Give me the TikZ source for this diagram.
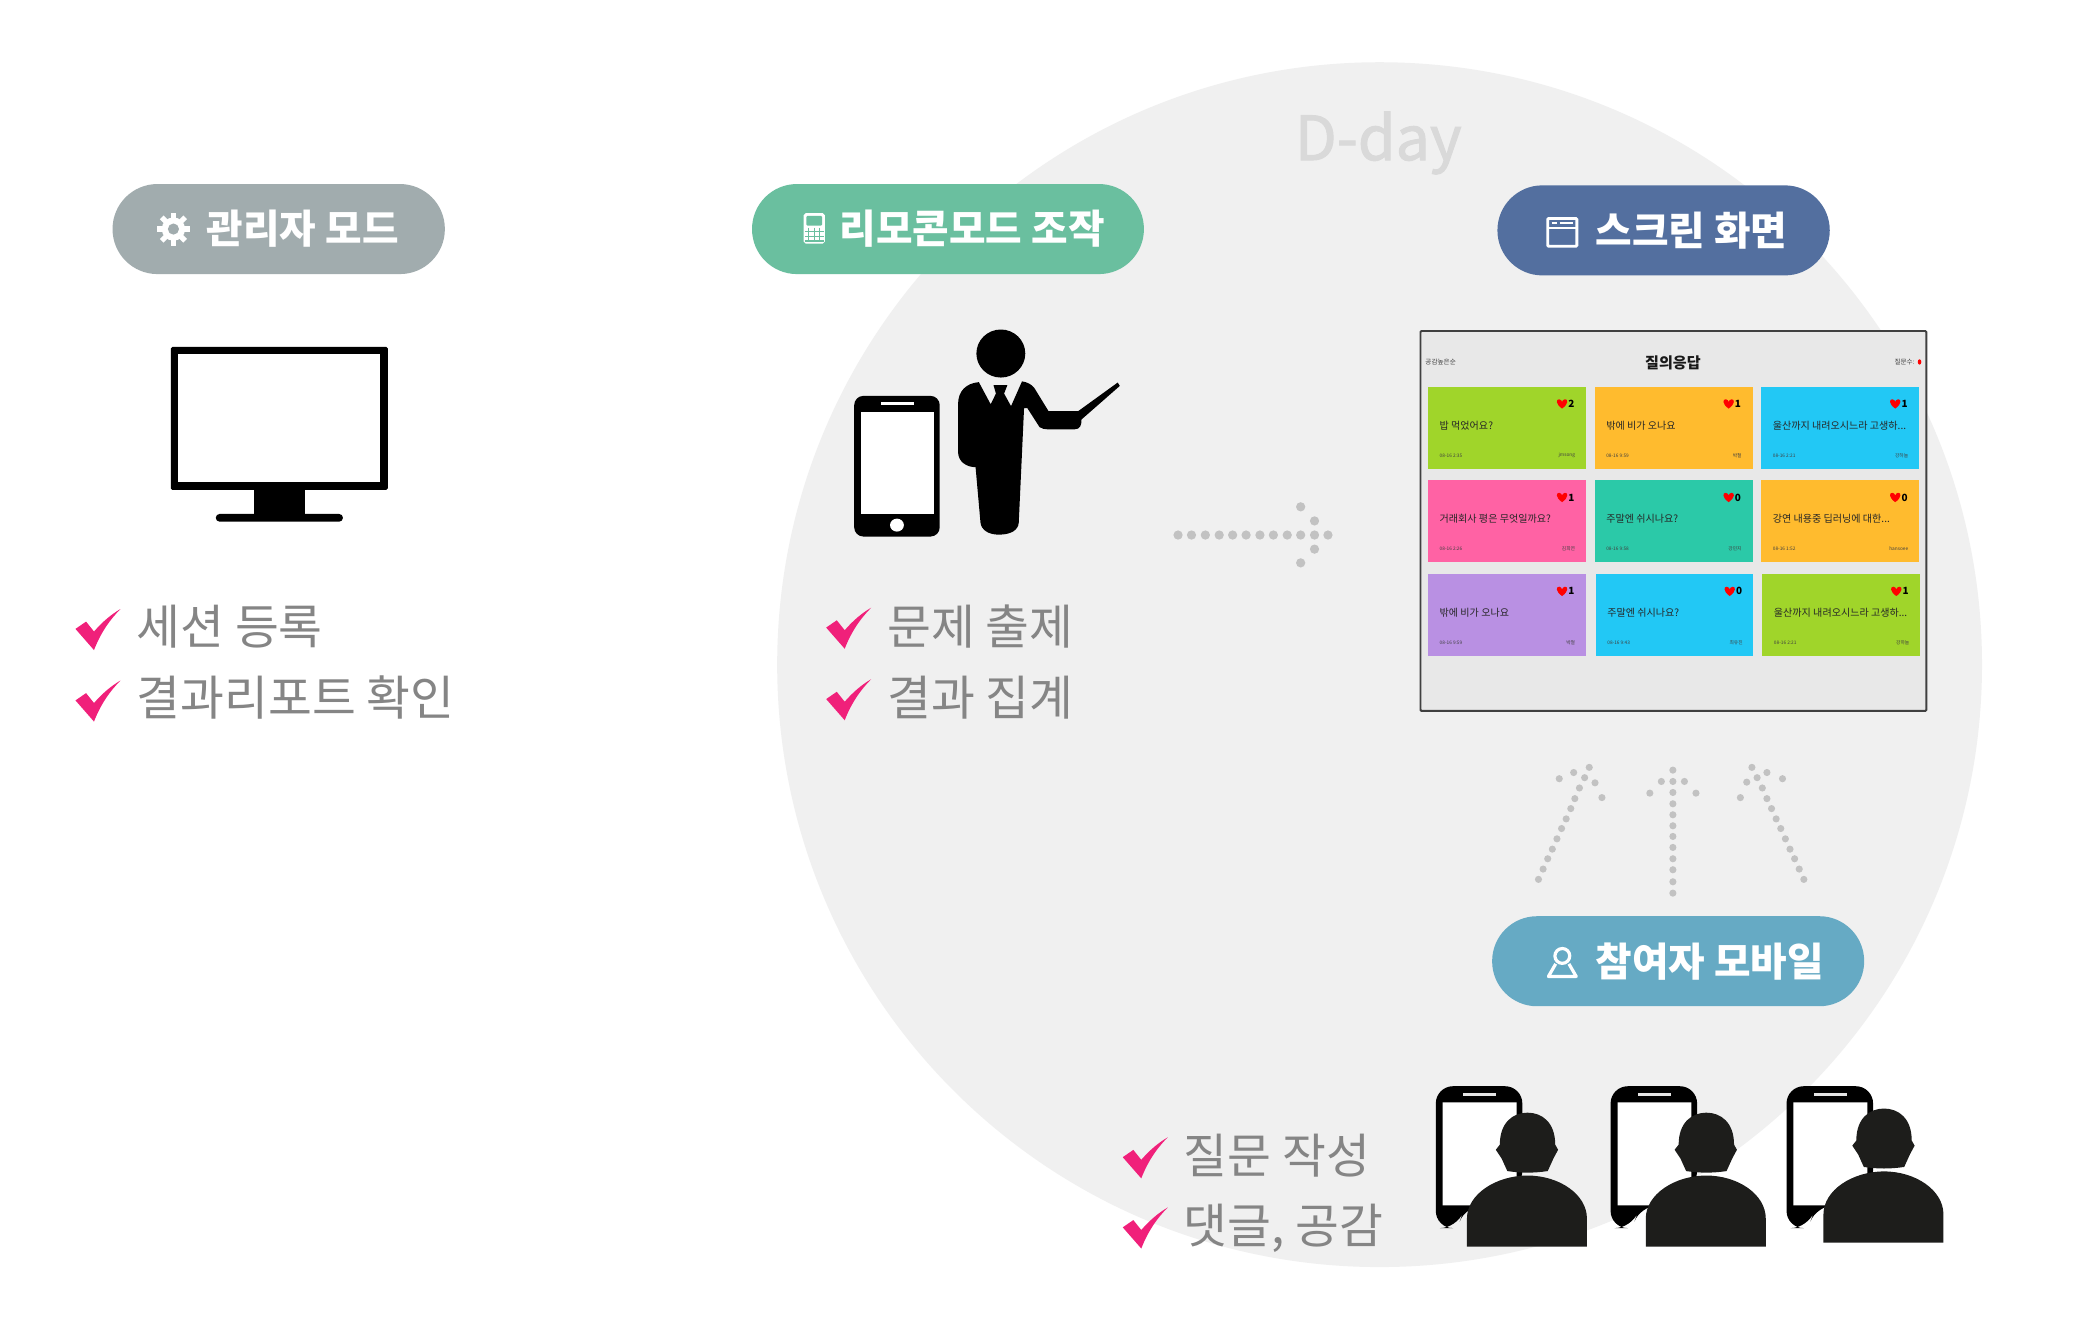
\documentclass[tikz,border=0pt]{standalone}
\usepackage{fontspec}
\setmainfont{Noto Sans CJK KR}
\newfontfamily\ddayfont[FakeBold=1.6]{Noto Sans CJK KR}
\definecolor{bgc}{HTML}{F0F0F0}
\definecolor{pillA}{HTML}{A1ACAE}
\definecolor{pillB}{HTML}{6ABF9F}
\definecolor{pillC}{HTML}{536F9F}
\definecolor{pillD}{HTML}{66AAC4}
\definecolor{chk}{HTML}{F0207A}
\definecolor{listc}{HTML}{858585}
\definecolor{dotc}{HTML}{C2C2C2}
\definecolor{dark}{HTML}{1D1D1B}
\definecolor{cgreen}{HTML}{A0D52A}
\definecolor{corange}{HTML}{FFBB2E}
\definecolor{cblue}{HTML}{22C8F5}
\definecolor{cpink}{HTML}{FF62A4}
\definecolor{cteal}{HTML}{2BC9A8}
\definecolor{cpurple}{HTML}{B990E3}
\newcommand{\fs}[1]{\fontsize{#1}{#1}\selectfont}
\tikzset{
  pill/.style={draw=none,minimum height=68pt,rounded corners=33.9pt,inner sep=0pt},
  pilltext/.style={text=white,font=\fs{30}\bfseries,anchor=west,inner sep=0pt},
  listtext/.style={text=listc,font=\fs{36},anchor=west,inner sep=0pt},
  qtext/.style={text=black!85,font=\fs{7.6},anchor=west,inner sep=0pt},
  tiny/.style={text=black!75,font=\fs{3.6},inner sep=0pt},
  cnt/.style={text=black,font=\fs{7.5}\bfseries,inner sep=0pt},
  dotfill/.style={fill=dotc,draw=none},
  chkmark/.pic={\fill[chk] (0,15) -- (8,9.5) -- (14,17) .. controls (20,10) and (27,4) .. (34,0) .. controls (26,8) and (19,18) .. (14,31) -- cycle;}
}
\newcommand{\card}[9]{%
  \fill[#5] (#1,#3) rectangle (#2,#4);
  \begin{scope}[shift={(#1,#3)}]
    \fill[red] (375,66) .. controls (356,52) and (358,37) .. (367,38) .. controls (371,39) and (375,42) .. (375,46) .. controls (375,42) and (379,39) .. (383,38) .. controls (392,37) and (394,52) .. (375,66) -- cycle;
    \node[cnt] (n#1#3) at (401,52) {#7};
    \node[qtext] (q#1#3) at (32,117) {#6};
    \node[tiny,anchor=west] (d#1#3) at (32,207) {#8};
    \node[tiny,anchor=east] (a#1#3) at (412,207) {#9};
  \end{scope}
}
\newcommand{\viewer}[3]{%
  \begin{scope}[shift={(#1,0)}]
    \fill[black,rounded corners=13pt] (585,1418) -- (585,1005) -- (735,1005) -- (735,1300) -- (690,1352) -- (637,1352) -- (622,1418) -- cycle;
    \fill[white] (597,1052) -- (725,1052) -- (725,1310) -- (680,1352) -- (597,1352) -- cycle;
    \fill[black!10] (632,1025) rectangle (690,1033);
  \end{scope}
  \begin{scope}[shift={(#2,#3)}]
    \fill[dark] (640,1472) -- (640,1390) .. controls (640,1320) and (690,1265) .. (745,1265) .. controls (800,1265) and (848,1320) .. (848,1390) -- (848,1472) -- cycle;
    \fill[dark] (697,1175) .. controls (697,1110) and (720,1082) .. (745,1082) .. controls (770,1082) and (793,1110) .. (793,1175) -- (798,1190) -- (790,1215) -- (780,1252) .. controls (755,1258) and (735,1258) .. (710,1252) -- (700,1215) -- (690,1190) -- cycle;
  \end{scope}
}
\begin{document}
\begin{tikzpicture}[x=1pt,y=-1pt]
\useasboundingbox (0,0) rectangle (1568,997);
\fill[white] (0,0) rectangle (1568,997);
\fill[bgc] (1042,502) circle[radius=455];
\node[text=black!15,font=\ddayfont\fs{46},inner sep=0pt] (dday) at (1041,108) {D-day};

% pills
\node[pill,fill=pillA,minimum width=251pt] (pa) at (210.5,173) {};
\node[pill,fill=pillB,minimum width=296pt] (pb) at (716,173) {};
\node[pill,fill=pillC,minimum width=251pt] (pc) at (1256.5,174) {};
\node[pill,fill=pillD,minimum width=281pt] (pd) at (1267.5,726) {};
\node[pilltext] (ta) at (156,173) {관리자 모드};
\node[pilltext] (tb) at (634,173) {리모콘모드 조작};
\node[pilltext] (tc) at (1205,174) {스크린 화면};
\node[pilltext] (td) at (1205,726) {참여자 모바일};

% gear
\foreach \a in {0,45,...,315}{\draw[white,line width=4pt] (131,173) -- ++(\a:12.5);}
\fill[white] (131,173) circle[radius=8.8];
\fill[pillA] (131,173) circle[radius=4.2];
% calculator
\fill[white,rounded corners=1.5pt] (607,161) rectangle (623,184);
\fill[pillB,rounded corners=1pt] (609,163) rectangle (621,170.5);
\foreach \gx in {611,615,619}{\draw[pillB,line width=.8pt] (\gx,172) -- (\gx,183);}
\foreach \gy in {175,178.5,182}{\draw[pillB,line width=.8pt] (608,\gy) -- (622,\gy);}
% window icon
\draw[white,line width=2.2pt,rounded corners=.8pt] (1169,165) rectangle (1191,186);
\draw[white,line width=1.6pt] (1169,172) -- (1191,172);
\draw[white,line width=1pt] (1172,168.5) -- (1176,168.5) (1178,168.5) -- (1188,168.5);
% person icon
\draw[white,line width=2.4pt] (1180,722) circle[radius=5.6];
\draw[white,line width=2.4pt,line join=round] (1175,728) -- (1169.5,737.5) -- (1190.5,737.5) -- (1185,728);

% monitor
\fill[black,rounded corners=1.2pt] (129,262) rectangle (293,370);
\fill[white] (134.7,267.7) rectangle (287.3,364.3);
\fill[black] (192,369) rectangle (230,389);
\fill[black,rounded corners=2.8pt] (163,388.2) rectangle (259,394);

% check lists
\pic at (57,460) {chkmark};
\pic at (57,514) {chkmark};
\node[listtext] (l1) at (103,473) {세션 등록};
\node[listtext] (l2) at (103,527) {결과리포트 확인};
\pic at (624,459) {chkmark};
\pic at (624,513) {chkmark};
\node[listtext] (m1) at (670,473) {문제 출제};
\node[listtext] (m2) at (670,527) {결과 집계};
\pic at (848,859) {chkmark};
\pic at (848,912) {chkmark};
\node[listtext] (b1) at (894,873) {질문 작성};
\node[listtext] (b2) at (894,928) {댓글, 공감};

% presenter and phone
\begin{scope}[shift={(559,121)},x=0.3077pt,y=-0.288pt]
  \fill[black,rounded corners=7pt] (280,618) rectangle (490,987);
  \fill[white] (297,660) rectangle (475,928);
  \fill[white] (345,633) rectangle (427,642);
  \fill[white] (385,957) ellipse[x radius=17,y radius=17];
  \fill[black] (640,507) ellipse[x radius=60,y radius=63];
  \fill[black,line join=round] (586,582) .. controls (555,585) and (535,605) .. (535,640) -- (535,765) .. controls (535,790) and (555,805) .. (578,805) -- (590,950) .. controls (592,970) and (610,982) .. (635,982) .. controls (665,982) and (683,970) .. (684,950) -- (697,650) -- (705,650) -- (735,700) .. controls (745,708) and (760,706) .. (820,706) .. controls (835,706) and (838,695) .. (838,680) -- (932,592) -- (927,583) -- (830,658) -- (757,658) -- (722,597) .. controls (715,588) and (705,582) .. (692,580) -- (665,645) -- (648,612) -- (656,590) -- (622,590) -- (628,612) -- (615,640) -- cycle;
  \foreach \dx in {1075,1108,1142,1176,1209,1242,1276,1309,1343,1376,1410,1443}{\fill[dotfill] (\dx,983) circle[radius=3.5pt];}
  \foreach \dx/\dy in {1376/909,1410/946,1410/1020,1376/1056}{\fill[dotfill] (\dx,\dy) circle[radius=3.5pt];}
\end{scope}

% screen panel
\begin{scope}[shift={(1057.5,234.4)},x=0.27pt,y=-0.2515pt]
  \draw[fill=black!9,draw=black!75,line width=1.5pt,rounded corners=.8pt] (57,62) rectangle (1472,1203);
  \node[font=\fs{11.4}\bfseries,text=black!90,inner sep=0pt] (title) at (763,157) {질의응답};
  \node[tiny,font=\fs{5},anchor=west] (sortl) at (70,156) {공감높은순};
  \node[tiny,font=\fs{5},anchor=east] (cntl) at (1440,156) {질문수:};
  \fill[red] (1453,155) ellipse[x radius=5,y radius=8];
  \card{78}{520}{229}{475}{cgreen}{밥 먹었어요?}{2}{08-16 2:35}{jmsong}
  \card{544}{986}{229}{475}{corange}{밖에 비가 오나요}{1}{08-16 9:59}{박철}
  \card{1010}{1452}{229}{475}{cblue}{울산까지 내려오시느라 고생하...}{1}{08-16 2:21}{강하늘}
  \card{78}{520}{510}{757}{cpink}{거래회사 평은 무엇일까요?}{1}{08-16 2:26}{김희연}
  \card{544}{986}{510}{757}{cteal}{주말엔 쉬시나요?}{0}{08-16 9:58}{강민지}
  \card{1010}{1452}{510}{757}{corange}{강연 내용중 딥러닝에 대한...}{0}{08-16 1:52}{hansoee}
  \card{78}{520}{792}{1038}{cpurple}{밖에 비가 오나요}{1}{08-16 9:59}{박철}
  \card{547}{988}{792}{1038}{cblue}{주말엔 쉬시나요?}{0}{08-16 9:43}{최유진}
  \card{1013}{1454}{792}{1038}{cgreen}{울산까지 내려오시느라 고생하...}{1}{08-16 2:21}{강하늘}
\end{scope}

% upward dotted arrows and viewers
\begin{scope}[shift={(830,559.6)},x=0.4357pt,y=-0.2595pt]
  \foreach \dx/\dy in {762/403,770/373,778/343,786/315,794/285,802/255,810/227,818/197,825/168,833/137,842/107,850/77,798/110,823/92,860/122,872/165,
    995/443,995/410,995/375,995/343,995/310,995/278,995/247,995/215,995/183,995/150,995/118,995/85,955/152,975/118,1015/118,1035/152,
    1222/403,1214/373,1206/343,1198/315,1190/285,1182/255,1174/227,1166/197,1158/168,1150/137,1141/107,1132/77,1185/110,1158/92,1123/120,1112/165}
    {\fill[dotfill] (\dx,\dy) circle[radius=2.7pt];}
  \viewer{-1}{-2}{0}
  \viewer{302}{308}{0}
  \viewer{607}{616}{-12}
\end{scope}
\end{tikzpicture}
\end{document}
